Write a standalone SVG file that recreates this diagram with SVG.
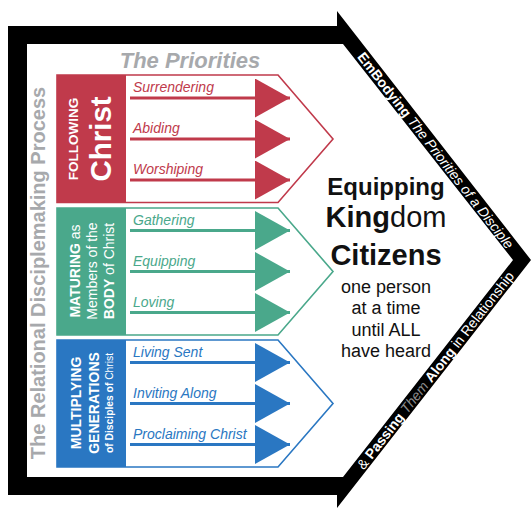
<svg xmlns="http://www.w3.org/2000/svg" width="532" height="508" viewBox="0 0 532 508">
<style>
text{font-family:"Liberation Sans",Arial,Helvetica,sans-serif}
.b{font-weight:bold}
.n{font-weight:normal}
.gray{fill:#a7a9ac}
.w{fill:#ffffff}
.lab{font-size:14px;font-style:italic}
.red{fill:#c03a4b}.grn{fill:#4aa88b}.blu{fill:#2a77c2}
.outR{fill:none;stroke:#c03a4b;stroke-width:1.6}
.outG{fill:none;stroke:#4aa88b;stroke-width:1.6}
.outB{fill:none;stroke:#2a77c2;stroke-width:1.6}
.lnR{stroke:#c03a4b;stroke-width:3}
.lnG{stroke:#4aa88b;stroke-width:3}
.lnB{stroke:#2a77c2;stroke-width:3}
.ctr{font-size:18px;fill:#111;text-anchor:middle}
</style>
<defs>
<marker id="aR" viewBox="0 0 35 39" refX="35" refY="19.5" markerWidth="35" markerHeight="39" markerUnits="userSpaceOnUse" orient="auto"><path d="M0 0L35 19.5L0 39Z" fill="#c03a4b"/></marker>
<marker id="aG" viewBox="0 0 35 39" refX="35" refY="19.5" markerWidth="35" markerHeight="39" markerUnits="userSpaceOnUse" orient="auto"><path d="M0 0L35 19.5L0 39Z" fill="#4aa88b"/></marker>
<marker id="aB" viewBox="0 0 35 39" refX="35" refY="19.5" markerWidth="35" markerHeight="39" markerUnits="userSpaceOnUse" orient="auto"><path d="M0 0L35 19.5L0 39Z" fill="#2a77c2"/></marker>
</defs>
<rect width="532" height="508" fill="#ffffff"/>

<g id="frame">
<path fill="#000" fill-rule="evenodd" d="M8 26H337V11L531 260L337 508V495H8Z M27 44V477H343L513 260L343 44Z"/>
<text transform="translate(431.8,153.4) rotate(52.1)" text-anchor="middle" font-size="14" class="w"><tspan class="b">EmBodying</tspan> <tspan font-style="italic">The Priorities of a Disciple</tspan></text>
<text transform="translate(439.2,373.4) rotate(-52.1)" text-anchor="middle" font-size="14" class="w">&amp; <tspan class="b">Passing</tspan> <tspan font-style="italic" fill="#8c8c8c">Them</tspan> <tspan class="b">Along</tspan> in Relationship</text>
</g>

<g id="title">
<text x="190" y="68" text-anchor="middle" font-size="22" font-style="italic" class="b gray">The Priorities</text>
</g>

<g id="side-label">
<text transform="translate(45,273) rotate(-90)" text-anchor="middle" font-size="20" class="b gray">The Relational Disciplemaking Process</text>
</g>

<g id="node-following">
<path class="outR" d="M57 75H278L333 139L278 202.5H57Z"/>
<rect x="57" y="75" width="69" height="128" class="red"/>
<text transform="translate(78,139) rotate(-90)" text-anchor="middle" font-size="13.5" class="b w">FOLLOWING</text>
<text transform="translate(111,139) rotate(-90)" text-anchor="middle" font-size="29.5" class="b w">Christ</text>
<text x="133" y="92" class="lab red">Surrendering</text>
<text x="133" y="133" class="lab red">Abiding</text>
<text x="133" y="174" class="lab red">Worshiping</text>
</g>

<g id="node-maturing">
<path class="outG" d="M57 208H278L333 271.5L278 335H57Z"/>
<rect x="57" y="208" width="69" height="127" class="grn"/>
<text transform="translate(80,271) rotate(-90)" text-anchor="middle" font-size="14" class="w"><tspan class="b">MATURING</tspan> as</text>
<text transform="translate(97,271) rotate(-90)" text-anchor="middle" font-size="14" class="w">Members of the</text>
<text transform="translate(114,271) rotate(-90)" text-anchor="middle" font-size="14" class="w"><tspan class="b">BODY</tspan> of Christ</text>
<text x="133" y="225" class="lab grn">Gathering</text>
<text x="133" y="266" class="lab grn">Equipping</text>
<text x="133" y="307" class="lab grn">Loving</text>
</g>

<g id="node-multiplying">
<path class="outB" d="M57 340H278L333 403.5L278 467H57Z"/>
<rect x="57" y="340" width="69" height="127" class="blu"/>
<text transform="translate(81,403) rotate(-90)" text-anchor="middle" font-size="14" class="b w">MULTIPLYING</text>
<text transform="translate(99,403) rotate(-90)" text-anchor="middle" font-size="14" class="b w">GENERATIONS</text>
<text transform="translate(113,403) rotate(-90)" text-anchor="middle" font-size="10.3" class="w"><tspan class="b">of Disciples of</tspan> Christ</text>
<text x="133" y="357" class="lab blu">Living Sent</text>
<text x="133" y="398" class="lab blu">Inviting Along</text>
<text x="133" y="439" class="lab blu">Proclaiming Christ</text>
</g>

<g id="connectors">
<line x1="130" y1="98" x2="290" y2="98" class="lnR" marker-end="url(#aR)"/>
<line x1="130" y1="139" x2="290" y2="139" class="lnR" marker-end="url(#aR)"/>
<line x1="130" y1="180" x2="290" y2="180" class="lnR" marker-end="url(#aR)"/>
<line x1="130" y1="230.5" x2="290" y2="230.5" class="lnG" marker-end="url(#aG)"/>
<line x1="130" y1="271.5" x2="290" y2="271.5" class="lnG" marker-end="url(#aG)"/>
<line x1="130" y1="312.5" x2="290" y2="312.5" class="lnG" marker-end="url(#aG)"/>
<line x1="130" y1="362.5" x2="290" y2="362.5" class="lnB" marker-end="url(#aB)"/>
<line x1="130" y1="403.5" x2="290" y2="403.5" class="lnB" marker-end="url(#aB)"/>
<line x1="130" y1="444.5" x2="290" y2="444.5" class="lnB" marker-end="url(#aB)"/>
</g>

<g id="center-text">
<text x="386" y="195" text-anchor="middle" font-size="24" class="b" fill="#111">Equipping</text>
<text x="386" y="227" text-anchor="middle" font-size="29" fill="#111"><tspan class="b">King</tspan>dom</text>
<text x="386" y="265" text-anchor="middle" font-size="29" class="b" fill="#111">Citizens</text>
<text x="386" y="292.5" class="ctr">one person</text>
<text x="386" y="314" class="ctr">at a time</text>
<text x="386" y="335.5" class="ctr">until ALL</text>
<text x="386" y="357" class="ctr">have heard</text>
</g>
</svg>
